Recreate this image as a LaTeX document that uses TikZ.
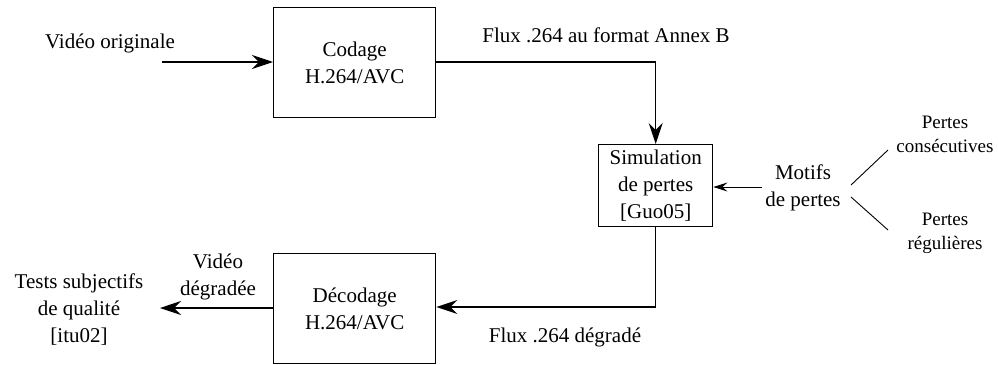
\documentclass[tikz,border=0pt]{standalone}
\usepackage{fontspec}
\setmainfont{Liberation Serif}
\usetikzlibrary{arrows.meta}
\begin{document}
\begin{tikzpicture}[x=1pt,y=-1pt,
  box/.style={draw,line width=1.4pt,minimum width=162pt,minimum height=110pt,anchor=north west,align=center,font=\fontsize{21}{27}\selectfont},
  lbl/.style={align=center,font=\fontsize{21}{27}\selectfont,inner sep=0pt},
  slbl/.style={align=center,font=\fontsize{19}{24}\selectfont,inner sep=0pt},
  flow/.style={line width=1.4pt,-{Stealth[length=21pt,width=14pt,inset=7pt]}},
  thin/.style={line width=0.9pt,-{Stealth[length=14pt,width=9pt,inset=5pt]}}]
\useasboundingbox (0,0) rectangle (998,364);
\node[box] (cod) at (273,7) {Codage\\H.264/AVC};
\node[box] (dec) at (273,253) {D\'ecodage\\H.264/AVC};
\node[draw,line width=1.4pt,minimum width=114pt,minimum height=82pt,anchor=north west,align=center,inner sep=0pt,font=\fontsize{21}{27}\selectfont] (sim) at (598,144) {Simulation\\de pertes\\{[}Guo05{]}};
\node[lbl] (vin) at (110,43) {Vid\'eo originale};
\coordinate (vinstart) at (162,62);
\draw[flow] (vinstart) -- (cod.west |- vinstart);
\node[lbl] (fluxA) at (606,35) {Flux .264 au format Annex B};
\draw[flow] (cod.east |- vinstart) -| (sim.north);
\node[lbl] (mot) at (803,188) {Motifs\\de pertes};
\draw[thin] (762,187) coordinate (mstart) -- (sim.east |- mstart);
\node[slbl] (pc) at (945,134) {Pertes\\cons\'ecutives};
\node[slbl] (pr) at (945,233) {Pertes\\r\'eguli\`eres};
\draw[line width=0.9pt] (851,185) coordinate (m1) -- (888,150) coordinate (p1);
\draw[line width=0.9pt] (851,197) coordinate (m2) -- (888,230) coordinate (p2);
\draw[flow] (sim.south) |- (dec.east |- 0,307);
\node[lbl] (fluxD) at (565,337) {Flux .264 d\'egrad\'e};
\node[lbl] (vdeg) at (218,277) {Vid\'eo\\d\'egrad\'ee};
\draw[flow] (dec.west |- 0,308) -- (160,308) coordinate (tend);
\node[lbl] (tests) at (79,310) {Tests subjectifs\\de qualit\'e\\{[}itu02{]}};
\end{tikzpicture}
\end{document}
